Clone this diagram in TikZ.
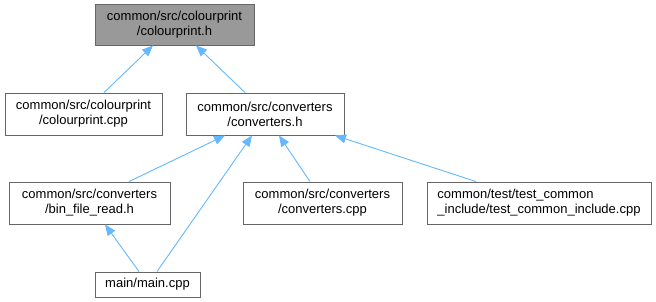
\documentclass[tikz,border=0pt]{standalone}
\usepackage{fontspec}
\setmainfont{Liberation Sans}
\usetikzlibrary{arrows.meta}
\definecolor{edgeblue}{HTML}{63B8FF}
\definecolor{boxline}{HTML}{666666}
\definecolor{rootfill}{HTML}{999999}
\begin{document}
\begin{tikzpicture}[x=1pt,y=-1pt,
  file/.style={draw=boxline,fill=white,line width=0.9pt,inner sep=0pt,
    align=center,font=\fontsize{13}{15}\selectfont,minimum height=42pt},
  rootfile/.style={file,fill=rootfill},
  incl/.style={draw=edgeblue,line width=0.9pt,
    {Triangle[length=11pt,width=9pt]}-}]
\useasboundingbox (0,0) rectangle (656,302);

\node[rootfile,minimum width=159pt,minimum height=41pt] (cph) at (174.5,24.5)
  {common/src/colourprint\\/colourprint.h};
\node[file,minimum width=157pt] (cpc) at (83.5,114)
  {common/src/colourprint\\/colourprint.cpp};
\node[file,minimum width=158pt] (cvh) at (265,114)
  {common/src/converters\\/converters.h};
\node[file,minimum width=161pt] (bfr) at (89.5,203)
  {common/src/converters\\/bin\_file\_read.h};
\node[file,minimum width=159pt] (cvc) at (322.5,203)
  {common/src/converters\\/converters.cpp};
\node[file,minimum width=224pt,align=left] (tci) at (539,203)
  {common/test/test\_common\\\_include/test\_common\_include.cpp};
\node[file,minimum width=105pt,minimum height=25pt] (mcp) at (147.5,284.5)
  {main/main.cpp};

\draw[incl] ([xshift=-21.5pt]cph.south) -- ([xshift=20.5pt]cpc.north);
\draw[incl] ([xshift=21.5pt]cph.south) -- ([xshift=-20pt]cvh.north);
\draw[incl] ([xshift=-40pt]cvh.south) -- ([xshift=39.5pt]bfr.north);
\draw[incl] ([xshift=-13pt]cvh.south) -- ([xshift=9.5pt]mcp.north);
\draw[incl] ([xshift=14pt]cvh.south) -- ([xshift=-12.5pt]cvc.north);
\draw[incl] ([xshift=70pt]cvh.south) -- ([xshift=-63pt]tci.north);
\draw[incl] ([xshift=15.5pt]bfr.south) -- ([xshift=-8.5pt]mcp.north);
\end{tikzpicture}
\end{document}
